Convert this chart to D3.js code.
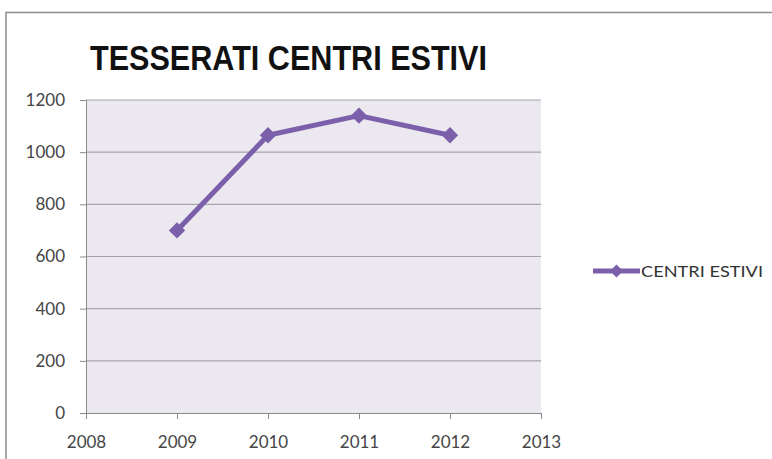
<!DOCTYPE html>
<html>
<head>
<meta charset="utf-8">
<script src="https://cdn.jsdelivr.net/npm/d3@7"></script>
<style>
  html, body { margin: 0; padding: 0; background: #fff; }
  svg { display: block; }
</style>
</head>
<body>
<svg id="chart" width="772" height="459"></svg>
<script>
// Summer-centre memberships per year
const years = [2009, 2010, 2011, 2012];
const members = [700, 1065, 1140, 1065];
const xTicks = [2008, 2009, 2010, 2011, 2012, 2013];
const yTicks = [0, 200, 400, 600, 800, 1000, 1200];
const seriesName = "CENTRI ESTIVI";
const title = "TESSERATI CENTRI ESTIVI";

const svg = d3.select("#chart");
const W = 772, H = 459;
const plot = { left: 86, right: 541, top: 100, bottom: 413 };
const lineColor = "#7b5fab";
const labelFont = "Lato, 'Open Sans', sans-serif";

// Chart frame
svg.append("path")
  .attr("d", `M6,${H} L6,12.5 L${W},12.5`)
  .attr("fill", "none")
  .attr("stroke", "#8c8c8c")
  .attr("stroke-width", 1.5);

// Title
svg.append("text")
  .attr("x", 90).attr("y", 70)
  .attr("textLength", 397).attr("lengthAdjust", "spacingAndGlyphs")
  .style("font-family", "'Liberation Sans Narrow', 'Liberation Sans', sans-serif")
  .style("font-weight", "bold")
  .style("font-size", "35px")
  .attr("fill", "#111")
  .text(title);

const x = d3.scaleLinear().domain([2008, 2013]).range([plot.left, plot.right]);
const y = d3.scaleLinear().domain([0, 1200]).range([plot.bottom, plot.top]);

// Plot background
svg.append("rect")
  .attr("x", plot.left).attr("y", plot.top)
  .attr("width", plot.right - plot.left).attr("height", plot.bottom - plot.top)
  .attr("fill", "#ece8ef");

// Horizontal gridlines
svg.append("g").selectAll("line")
  .data(yTicks.filter(d => d > 0))
  .join("line")
  .attr("x1", plot.left).attr("x2", plot.right)
  .attr("y1", d => y(d)).attr("y2", d => y(d))
  .attr("stroke", "#a6a4a8").attr("stroke-width", 1.2);

// Y axis
const yAxis = svg.append("g")
  .attr("transform", `translate(${plot.left},0)`)
  .call(d3.axisLeft(y).tickValues(yTicks).tickSize(6).tickPadding(15).tickFormat(d3.format("d")));
yAxis.select(".domain").attr("stroke", "#8a8a8a");
yAxis.selectAll(".tick line").attr("stroke", "#8a8a8a");
yAxis.selectAll("text")
  .style("font-family", labelFont).style("font-size", "17px").attr("fill", "#454545");

// X axis
const xAxis = svg.append("g")
  .attr("transform", `translate(0,${plot.bottom})`)
  .call(d3.axisBottom(x).tickValues(xTicks).tickSize(6).tickPadding(17).tickFormat(d3.format("d")));
xAxis.select(".domain").attr("stroke", "#8a8a8a");
xAxis.selectAll(".tick line").attr("stroke", "#8a8a8a");
xAxis.selectAll("text")
  .style("font-family", labelFont).style("font-size", "17px").attr("fill", "#454545");

// Series line
const pts = years.map((yr, i) => [yr, members[i]]);
svg.append("path")
  .datum(pts)
  .attr("fill", "none")
  .attr("stroke", lineColor)
  .attr("stroke-width", 5)
  .attr("stroke-linejoin", "round")
  .attr("d", d3.line().x(d => x(d[0])).y(d => y(d[1])));

// Diamond markers
const diamond = d3.symbol().type(d3.symbolDiamond2).size(170);
svg.append("g").selectAll("path")
  .data(pts)
  .join("path")
  .attr("transform", d => `translate(${x(d[0])},${y(d[1])})`)
  .attr("d", diamond)
  .attr("fill", lineColor);

// Legend
const lg = svg.append("g").attr("transform", "translate(593,271)");
lg.append("line")
  .attr("x1", 0).attr("x2", 47).attr("y1", 0).attr("y2", 0)
  .attr("stroke", lineColor).attr("stroke-width", 5);
lg.append("path")
  .attr("transform", "translate(23.5,0)")
  .attr("d", d3.symbol().type(d3.symbolDiamond2).size(110))
  .attr("fill", lineColor);
lg.append("text")
  .attr("x", 48).attr("y", 6)
  .attr("textLength", 122).attr("lengthAdjust", "spacingAndGlyphs")
  .style("font-family", labelFont).style("font-size", "15px")
  .attr("fill", "#333")
  .text(seriesName);
</script>
</body>
</html>
